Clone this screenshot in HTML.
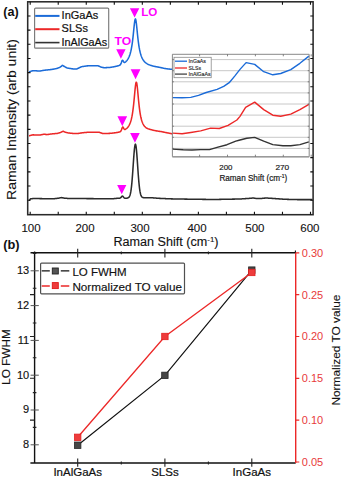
<!DOCTYPE html>
<html><head><meta charset="utf-8"><style>
html,body{margin:0;padding:0;background:#fff;}
body{width:342px;height:478px;overflow:hidden;font-family:"Liberation Sans",sans-serif;}
svg{display:block;}
</style></head><body>
<svg width="342" height="478" viewBox="0 0 342 478" font-family='"Liberation Sans", sans-serif'>
<rect width="342" height="478" fill="#fff"/>
<defs><clipPath id="ca"><rect x="27.7" y="1.8" width="285.4" height="212.9"/></clipPath></defs>
<g clip-path="url(#ca)" fill="none" stroke-width="1.55" stroke-linejoin="round">
<path d="M29.00 71.75 L29.35 71.75 L29.70 71.65 L30.05 71.53 L30.40 71.42 L30.75 71.32 L31.10 71.21 L31.45 71.11 L31.80 71.01 L32.15 70.91 L32.50 70.80 L32.85 70.75 L33.20 70.76 L33.55 70.77 L33.90 70.78 L34.25 70.79 L34.60 70.80 L34.95 70.81 L35.30 70.82 L35.65 70.83 L36.00 70.84 L36.35 70.85 L36.70 70.87 L37.05 70.89 L37.40 70.91 L37.75 70.93 L38.10 70.95 L38.45 70.97 L38.80 70.99 L39.15 71.01 L39.50 71.03 L39.85 71.01 L40.20 70.95 L40.55 70.89 L40.90 70.83 L41.25 70.77 L41.60 70.71 L41.95 70.65 L42.30 70.59 L42.65 70.53 L43.00 70.47 L43.35 70.41 L43.70 70.35 L44.05 70.29 L44.40 70.23 L44.75 70.19 L45.10 70.16 L45.45 70.12 L45.80 70.09 L46.15 70.05 L46.50 70.02 L46.85 69.98 L47.20 69.95 L47.55 69.91 L47.90 69.87 L48.25 69.84 L48.60 69.80 L48.95 69.77 L49.30 69.73 L49.65 69.70 L50.00 69.66 L50.35 69.62 L50.70 69.59 L51.05 69.55 L51.40 69.52 L51.75 69.45 L52.10 69.38 L52.45 69.32 L52.80 69.25 L53.15 69.18 L53.50 69.12 L53.85 69.05 L54.20 68.98 L54.55 68.91 L54.90 68.85 L55.25 68.78 L55.60 68.71 L55.95 68.65 L56.30 68.58 L56.65 68.51 L57.00 68.44 L57.35 68.34 L57.70 68.19 L58.05 68.04 L58.40 67.89 L58.75 67.74 L59.10 67.59 L59.45 67.44 L59.80 67.28 L60.15 67.08 L60.50 66.82 L60.85 66.55 L61.20 66.28 L61.55 66.02 L61.90 65.75 L62.25 65.48 L62.60 65.36 L62.95 65.58 L63.30 65.81 L63.65 66.03 L64.00 66.26 L64.35 66.49 L64.70 66.69 L65.05 66.89 L65.40 67.08 L65.75 67.27 L66.10 67.46 L66.45 67.65 L66.80 67.78 L67.15 67.89 L67.50 68.01 L67.85 68.12 L68.20 68.20 L68.55 68.25 L68.90 68.30 L69.25 68.35 L69.60 68.40 L69.95 68.45 L70.30 68.50 L70.65 68.55 L71.00 68.60 L71.35 68.66 L71.70 68.71 L72.05 68.76 L72.40 68.81 L72.75 68.86 L73.10 68.91 L73.45 68.95 L73.80 68.95 L74.15 68.95 L74.50 68.94 L74.85 68.94 L75.20 68.94 L75.55 68.94 L75.90 68.94 L76.25 68.93 L76.60 68.93 L76.95 68.91 L77.30 68.74 L77.65 68.57 L78.00 68.40 L78.35 68.23 L78.70 68.06 L79.05 67.89 L79.40 67.72 L79.75 67.55 L80.10 67.38 L80.45 67.21 L80.80 67.04 L81.15 66.87 L81.50 66.70 L81.85 66.65 L82.20 66.60 L82.55 66.55 L82.90 66.50 L83.25 66.45 L83.60 66.40 L83.95 66.35 L84.30 66.30 L84.65 66.25 L85.00 66.20 L85.35 66.15 L85.70 66.10 L86.05 66.05 L86.40 66.00 L86.75 65.94 L87.10 65.89 L87.45 65.85 L87.80 65.85 L88.15 65.84 L88.50 65.84 L88.85 65.83 L89.20 65.83 L89.55 65.83 L89.90 65.82 L90.25 65.82 L90.60 65.81 L90.95 65.81 L91.30 65.80 L91.65 65.80 L92.00 65.79 L92.35 65.79 L92.70 65.78 L93.05 65.78 L93.40 65.77 L93.75 65.77 L94.10 65.76 L94.45 65.76 L94.80 65.75 L95.15 65.75 L95.50 65.74 L95.85 65.73 L96.20 65.73 L96.55 65.72 L96.90 65.71 L97.25 65.71 L97.60 65.70 L97.95 65.71 L98.30 65.87 L98.65 66.02 L99.00 66.17 L99.35 66.32 L99.70 66.47 L100.05 66.62 L100.40 66.78 L100.75 66.93 L101.10 67.08 L101.45 67.22 L101.80 67.29 L102.15 67.36 L102.50 67.43 L102.85 67.50 L103.20 67.57 L103.55 67.63 L103.90 67.70 L104.25 67.71 L104.60 67.70 L104.95 67.69 L105.30 67.67 L105.65 67.66 L106.00 67.64 L106.35 67.63 L106.70 67.61 L107.05 67.59 L107.40 67.58 L107.75 67.56 L108.10 67.54 L108.45 67.52 L108.80 67.50 L109.15 67.48 L109.50 67.46 L109.85 67.44 L110.20 67.40 L110.55 67.34 L110.90 67.29 L111.25 67.23 L111.60 67.17 L111.95 67.11 L112.30 67.05 L112.65 66.99 L113.00 66.93 L113.35 66.87 L113.70 66.80 L114.05 66.73 L114.40 66.66 L114.75 66.59 L115.10 66.52 L115.45 66.45 L115.80 66.37 L116.15 66.30 L116.50 66.22 L116.85 66.13 L117.20 66.05 L117.55 65.96 L117.90 65.86 L118.25 65.77 L118.60 65.66 L118.95 65.53 L119.30 65.39 L119.65 65.23 L120.00 65.01 L120.35 64.69 L120.70 64.18 L121.05 63.42 L121.40 62.44 L121.75 61.38 L122.10 60.54 L122.45 60.18 L122.80 60.35 L123.15 60.92 L123.50 61.61 L123.85 62.16 L124.20 62.45 L124.55 62.50 L124.90 62.38 L125.25 62.14 L125.60 61.85 L125.95 61.52 L126.30 61.17 L126.65 60.80 L127.00 60.38 L127.35 59.93 L127.70 59.42 L128.05 58.86 L128.40 58.24 L128.75 57.54 L129.10 56.77 L129.45 55.90 L129.80 54.92 L130.15 53.82 L130.50 52.57 L130.85 51.16 L131.20 49.55 L131.55 47.72 L131.90 45.64 L132.25 43.28 L132.60 40.62 L132.95 37.65 L133.30 34.39 L133.65 30.94 L134.00 27.44 L134.35 24.14 L134.70 21.39 L135.05 19.55 L135.40 18.90 L135.75 19.56 L136.10 21.42 L136.45 24.19 L136.80 27.50 L137.15 31.01 L137.50 34.48 L137.85 37.75 L138.20 40.74 L138.55 43.42 L138.90 45.79 L139.25 47.89 L139.60 49.73 L139.95 51.36 L140.30 52.79 L140.65 54.06 L141.00 55.18 L141.35 56.18 L141.70 57.07 L142.05 57.87 L142.40 58.58 L142.75 59.23 L143.10 59.81 L143.45 60.33 L143.80 60.81 L144.15 61.25 L144.50 61.65 L144.85 62.01 L145.20 62.34 L145.55 62.65 L145.90 62.94 L146.25 63.20 L146.60 63.44 L146.95 63.67 L147.30 63.88 L147.65 64.07 L148.00 64.26 L148.35 64.43 L148.70 64.59 L149.05 64.74 L149.40 64.88 L149.75 65.01 L150.10 65.14 L150.45 65.27 L150.80 65.39 L151.15 65.50 L151.50 65.61 L151.85 65.72 L152.20 65.82 L152.55 65.92 L152.90 66.01 L153.25 66.10 L153.60 66.18 L153.95 66.26 L154.30 66.34 L154.65 66.42 L155.00 66.49 L155.35 66.56 L155.70 66.63 L156.05 66.70 L156.40 66.76 L156.75 66.82 L157.10 66.88 L157.45 66.94 L157.80 67.00 L158.15 67.06 L158.50 67.11 L158.85 67.16 L159.20 67.22 L159.55 67.31 L159.90 67.39 L160.25 67.47 L160.60 67.55 L160.95 67.63 L161.30 67.71 L161.65 67.79 L162.00 67.87 L162.35 67.95 L162.70 68.02 L163.05 68.10 L163.40 68.17 L163.75 68.24 L164.10 68.32 L164.45 68.39 L164.80 68.46 L165.15 68.53 L165.50 68.59 L165.85 68.64 L166.20 68.68 L166.55 68.72 L166.90 68.77 L167.25 68.81 L167.60 68.86 L167.95 68.90 L168.30 68.94 L168.65 68.98 L169.00 69.03 L169.35 69.07 L169.70 69.11 L170.05 69.15 L170.40 69.19 L170.75 69.23 L171.10 69.27 L171.45 69.31 L171.80 69.35 L172.15 69.38 L172.50 69.41 L172.85 69.43 L173.20 69.46 L173.55 69.48 L173.90 69.51 L174.25 69.53 L174.60 69.56 L174.95 69.58 L175.30 69.60 L175.65 69.63 L176.00 69.65 L176.35 69.67 L176.70 69.70 L177.05 69.72 L177.40 69.74 L177.75 69.77 L178.10 69.79 L178.45 69.81 L178.80 69.83 L179.15 69.86 L179.50 69.88 L179.85 69.90 L180.20 69.91 L180.55 69.92 L180.90 69.92 L181.25 69.93 L181.60 69.93 L181.95 69.93 L182.30 69.94 L182.65 69.94 L183.00 69.95 L183.35 69.95 L183.70 69.95 L184.05 69.96 L184.40 69.96 L184.75 69.96 L185.10 69.97 L185.45 69.97 L185.80 69.97 L186.15 69.98 L186.50 69.98 L186.85 69.98 L187.20 69.98 L187.55 69.99 L187.90 69.99 L188.25 69.99 L188.60 70.00 L188.95 70.00 L189.30 70.00 L189.65 70.00 L190.00 70.01 L190.35 70.01 L190.70 70.01 L191.05 70.01 L191.40 70.02 L191.75 70.02 L192.10 70.02 L192.45 70.02 L192.80 70.02 L193.15 70.03 L193.50 70.03 L193.85 70.03 L194.20 70.03 L194.55 70.03 L194.90 70.04 L195.25 70.04 L195.60 70.04 L195.95 70.04 L196.30 70.04 L196.65 70.05 L197.00 70.05 L197.35 70.05 L197.70 70.05 L198.05 70.05 L198.40 70.05 L198.75 70.06 L199.10 70.06 L199.45 70.06 L199.80 70.06" stroke="#1b6bd8"/>
<path d="M29.00 135.76 L29.35 135.76 L29.70 135.66 L30.05 135.54 L30.40 135.43 L30.75 135.35 L31.10 135.26 L31.45 135.17 L31.80 135.08 L32.15 135.00 L32.50 134.91 L32.85 134.86 L33.20 134.87 L33.55 134.88 L33.90 134.89 L34.25 134.90 L34.60 134.91 L34.95 134.92 L35.30 134.93 L35.65 134.94 L36.00 134.95 L36.35 134.96 L36.70 134.97 L37.05 134.98 L37.40 134.99 L37.75 135.00 L38.10 135.01 L38.45 135.02 L38.80 135.03 L39.15 135.04 L39.50 135.05 L39.85 135.02 L40.20 134.96 L40.55 134.89 L40.90 134.82 L41.25 134.75 L41.60 134.69 L41.95 134.62 L42.30 134.55 L42.65 134.48 L43.00 134.42 L43.35 134.35 L43.70 134.28 L44.05 134.21 L44.40 134.15 L44.75 134.22 L45.10 134.30 L45.45 134.37 L45.80 134.45 L46.15 134.52 L46.50 134.60 L46.85 134.62 L47.20 134.57 L47.55 134.52 L47.90 134.46 L48.25 134.41 L48.60 134.36 L48.95 134.31 L49.30 134.25 L49.65 134.20 L50.00 134.15 L50.35 134.09 L50.70 134.04 L51.05 133.99 L51.40 133.94 L51.75 133.91 L52.10 133.88 L52.45 133.84 L52.80 133.81 L53.15 133.78 L53.50 133.75 L53.85 133.72 L54.20 133.69 L54.55 133.66 L54.90 133.63 L55.25 133.60 L55.60 133.57 L55.95 133.54 L56.30 133.51 L56.65 133.48 L57.00 133.45 L57.35 133.39 L57.70 133.29 L58.05 133.19 L58.40 133.10 L58.75 133.00 L59.10 132.91 L59.45 132.81 L59.80 132.71 L60.15 132.62 L60.50 132.52 L60.85 132.35 L61.20 132.17 L61.55 131.99 L61.90 131.82 L62.25 131.64 L62.60 131.47 L62.95 131.29 L63.30 131.31 L63.65 131.47 L64.00 131.63 L64.35 131.79 L64.70 131.94 L65.05 132.10 L65.40 132.26 L65.75 132.36 L66.10 132.44 L66.45 132.51 L66.80 132.59 L67.15 132.67 L67.50 132.74 L67.85 132.82 L68.20 132.89 L68.55 132.97 L68.90 133.02 L69.25 133.06 L69.60 133.09 L69.95 133.13 L70.30 133.17 L70.65 133.20 L71.00 133.24 L71.35 133.27 L71.70 133.31 L72.05 133.35 L72.40 133.38 L72.75 133.42 L73.10 133.45 L73.45 133.49 L73.80 133.48 L74.15 133.48 L74.50 133.48 L74.85 133.48 L75.20 133.48 L75.55 133.48 L75.90 133.48 L76.25 133.47 L76.60 133.47 L76.95 133.47 L77.30 133.47 L77.65 133.47 L78.00 133.47 L78.35 133.41 L78.70 133.36 L79.05 133.31 L79.40 133.25 L79.75 133.20 L80.10 133.14 L80.45 133.09 L80.80 133.04 L81.15 132.98 L81.50 132.93 L81.85 132.87 L82.20 132.82 L82.55 132.77 L82.90 132.72 L83.25 132.69 L83.60 132.66 L83.95 132.63 L84.30 132.60 L84.65 132.56 L85.00 132.53 L85.35 132.50 L85.70 132.47 L86.05 132.44 L86.40 132.40 L86.75 132.37 L87.10 132.34 L87.45 132.31 L87.80 132.31 L88.15 132.30 L88.50 132.30 L88.85 132.30 L89.20 132.30 L89.55 132.29 L89.90 132.29 L90.25 132.29 L90.60 132.28 L90.95 132.28 L91.30 132.28 L91.65 132.27 L92.00 132.27 L92.35 132.27 L92.70 132.26 L93.05 132.26 L93.40 132.25 L93.75 132.25 L94.10 132.25 L94.45 132.24 L94.80 132.24 L95.15 132.23 L95.50 132.23 L95.85 132.22 L96.20 132.22 L96.55 132.21 L96.90 132.21 L97.25 132.20 L97.60 132.20 L97.95 132.19 L98.30 132.19 L98.65 132.18 L99.00 132.18 L99.35 132.27 L99.70 132.40 L100.05 132.54 L100.40 132.67 L100.75 132.80 L101.10 132.94 L101.45 133.07 L101.80 133.20 L102.15 133.33 L102.50 133.47 L102.85 133.50 L103.20 133.50 L103.55 133.49 L103.90 133.49 L104.25 133.48 L104.60 133.48 L104.95 133.47 L105.30 133.47 L105.65 133.46 L106.00 133.46 L106.35 133.45 L106.70 133.44 L107.05 133.43 L107.40 133.43 L107.75 133.42 L108.10 133.41 L108.45 133.40 L108.80 133.39 L109.15 133.38 L109.50 133.37 L109.85 133.36 L110.20 133.33 L110.55 133.30 L110.90 133.27 L111.25 133.23 L111.60 133.20 L111.95 133.16 L112.30 133.13 L112.65 133.09 L113.00 133.05 L113.35 133.01 L113.70 132.97 L114.05 132.93 L114.40 132.88 L114.75 132.84 L115.10 132.79 L115.45 132.74 L115.80 132.68 L116.15 132.63 L116.50 132.57 L116.85 132.51 L117.20 132.45 L117.55 132.39 L117.90 132.32 L118.25 132.26 L118.60 132.18 L118.95 132.09 L119.30 132.00 L119.65 131.90 L120.00 131.77 L120.35 131.59 L120.70 131.28 L121.05 130.77 L121.40 130.01 L121.75 129.03 L122.10 128.01 L122.45 127.24 L122.80 126.97 L123.15 127.24 L123.50 127.89 L123.85 128.62 L124.20 129.18 L124.55 129.48 L124.90 129.54 L125.25 129.44 L125.60 129.24 L125.95 128.99 L126.30 128.72 L126.65 128.43 L127.00 128.11 L127.35 127.76 L127.70 127.37 L128.05 126.94 L128.40 126.47 L128.75 125.94 L129.10 125.34 L129.45 124.67 L129.80 123.92 L130.15 123.07 L130.50 122.11 L130.85 121.02 L131.20 119.77 L131.55 118.34 L131.90 116.71 L132.25 114.83 L132.60 112.68 L132.95 110.23 L133.30 107.44 L133.65 104.32 L134.00 100.87 L134.35 97.16 L134.70 93.33 L135.05 89.61 L135.40 86.30 L135.75 83.76 L136.10 82.33 L136.45 82.23 L136.80 83.46 L137.15 85.83 L137.50 89.04 L137.85 92.70 L138.20 96.51 L138.55 100.22 L138.90 103.69 L139.25 106.85 L139.60 109.66 L139.95 112.14 L140.30 114.30 L140.65 116.17 L141.00 117.80 L141.35 119.22 L141.70 120.45 L142.05 121.53 L142.40 122.47 L142.75 123.29 L143.10 124.02 L143.45 124.66 L143.80 125.22 L144.15 125.72 L144.50 126.17 L144.85 126.56 L145.20 126.92 L145.55 127.24 L145.90 127.52 L146.25 127.78 L146.60 128.01 L146.95 128.21 L147.30 128.40 L147.65 128.57 L148.00 128.72 L148.35 128.86 L148.70 128.99 L149.05 129.10 L149.40 129.21 L149.75 129.30 L150.10 129.39 L150.45 129.46 L150.80 129.54 L151.15 129.64 L151.50 129.75 L151.85 129.85 L152.20 129.95 L152.55 130.05 L152.90 130.14 L153.25 130.23 L153.60 130.31 L153.95 130.39 L154.30 130.47 L154.65 130.54 L155.00 130.61 L155.35 130.68 L155.70 130.75 L156.05 130.81 L156.40 130.87 L156.75 130.93 L157.10 130.99 L157.45 131.05 L157.80 131.10 L158.15 131.16 L158.50 131.21 L158.85 131.26 L159.20 131.31 L159.55 131.36 L159.90 131.41 L160.25 131.46 L160.60 131.50 L160.95 131.55 L161.30 131.60 L161.65 131.68 L162.00 131.75 L162.35 131.83 L162.70 131.91 L163.05 131.98 L163.40 132.06 L163.75 132.13 L164.10 132.20 L164.45 132.27 L164.80 132.35 L165.15 132.42 L165.50 132.49 L165.85 132.56 L166.20 132.63 L166.55 132.70 L166.90 132.77 L167.25 132.84 L167.60 132.91 L167.95 132.98 L168.30 133.04 L168.65 133.11 L169.00 133.18 L169.35 133.25 L169.70 133.31 L170.05 133.38 L170.40 133.45 L170.75 133.51 L171.10 133.58 L171.45 133.64 L171.80 133.66 L172.15 133.67 L172.50 133.69 L172.85 133.71 L173.20 133.73 L173.55 133.75 L173.90 133.77 L174.25 133.79 L174.60 133.80 L174.95 133.82 L175.30 133.84 L175.65 133.86 L176.00 133.87 L176.35 133.89 L176.70 133.91 L177.05 133.92 L177.40 133.94 L177.75 133.96 L178.10 133.97 L178.45 133.99 L178.80 134.01 L179.15 134.02 L179.50 134.04 L179.85 134.06 L180.20 134.07 L180.55 134.07 L180.90 134.07 L181.25 134.08 L181.60 134.08 L181.95 134.08 L182.30 134.09 L182.65 134.09 L183.00 134.09 L183.35 134.10 L183.70 134.10 L184.05 134.10 L184.40 134.10 L184.75 134.11 L185.10 134.11 L185.45 134.11 L185.80 134.12 L186.15 134.12 L186.50 134.12 L186.85 134.12 L187.20 134.13 L187.55 134.13 L187.90 134.13 L188.25 134.13 L188.60 134.13 L188.95 134.14 L189.30 134.14 L189.65 134.14 L190.00 134.14 L190.35 134.14 L190.70 134.15 L191.05 134.15 L191.40 134.15 L191.75 134.15 L192.10 134.15 L192.45 134.16 L192.80 134.16 L193.15 134.16 L193.50 134.16 L193.85 134.16 L194.20 134.16 L194.55 134.17 L194.90 134.17 L195.25 134.17 L195.60 134.17 L195.95 134.17 L196.30 134.17 L196.65 134.18 L197.00 134.18 L197.35 134.18 L197.70 134.18 L198.05 134.18 L198.40 134.18 L198.75 134.18 L199.10 134.19 L199.45 134.19 L199.80 134.19" stroke="#ec2828"/>
<path d="M29.00 200.20 L29.35 200.20 L29.70 199.82 L30.05 199.37 L30.40 198.92 L30.75 198.77 L31.10 198.74 L31.45 198.71 L31.80 198.68 L32.15 198.65 L32.50 198.61 L32.85 198.58 L33.20 198.55 L33.55 198.52 L33.90 198.50 L34.25 198.50 L34.60 198.51 L34.95 198.52 L35.30 198.52 L35.65 198.53 L36.00 198.54 L36.35 198.54 L36.70 198.55 L37.05 198.55 L37.40 198.56 L37.75 198.57 L38.10 198.57 L38.45 198.58 L38.80 198.59 L39.15 198.59 L39.50 198.60 L39.85 198.60 L40.20 198.61 L40.55 198.62 L40.90 198.62 L41.25 198.63 L41.60 198.64 L41.95 198.64 L42.30 198.65 L42.65 198.65 L43.00 198.66 L43.35 198.67 L43.70 198.67 L44.05 198.68 L44.40 198.69 L44.75 198.69 L45.10 198.70 L45.45 198.70 L45.80 198.70 L46.15 198.70 L46.50 198.70 L46.85 198.70 L47.20 198.70 L47.55 198.70 L47.90 198.70 L48.25 198.70 L48.60 198.70 L48.95 198.70 L49.30 198.70 L49.65 198.70 L50.00 198.70 L50.35 198.70 L50.70 198.70 L51.05 198.70 L51.40 198.70 L51.75 198.70 L52.10 198.70 L52.45 198.70 L52.80 198.69 L53.15 198.69 L53.50 198.69 L53.85 198.69 L54.20 198.69 L54.55 198.65 L54.90 198.61 L55.25 198.57 L55.60 198.53 L55.95 198.49 L56.30 198.45 L56.65 198.41 L57.00 198.37 L57.35 198.33 L57.70 198.29 L58.05 198.25 L58.40 198.21 L58.75 198.14 L59.10 198.07 L59.45 198.00 L59.80 197.93 L60.15 197.86 L60.50 197.79 L60.85 197.72 L61.20 197.65 L61.55 197.60 L61.90 197.67 L62.25 197.74 L62.60 197.81 L62.95 197.88 L63.30 197.95 L63.65 198.02 L64.00 198.09 L64.35 198.16 L64.70 198.21 L65.05 198.23 L65.40 198.25 L65.75 198.28 L66.10 198.30 L66.45 198.33 L66.80 198.35 L67.15 198.37 L67.50 198.40 L67.85 198.42 L68.20 198.44 L68.55 198.47 L68.90 198.49 L69.25 198.49 L69.60 198.50 L69.95 198.50 L70.30 198.50 L70.65 198.50 L71.00 198.50 L71.35 198.51 L71.70 198.51 L72.05 198.51 L72.40 198.51 L72.75 198.52 L73.10 198.52 L73.45 198.52 L73.80 198.52 L74.15 198.52 L74.50 198.53 L74.85 198.53 L75.20 198.53 L75.55 198.53 L75.90 198.53 L76.25 198.54 L76.60 198.54 L76.95 198.54 L77.30 198.54 L77.65 198.54 L78.00 198.55 L78.35 198.55 L78.70 198.55 L79.05 198.55 L79.40 198.55 L79.75 198.56 L80.10 198.56 L80.45 198.56 L80.80 198.56 L81.15 198.56 L81.50 198.57 L81.85 198.57 L82.20 198.57 L82.55 198.57 L82.90 198.57 L83.25 198.58 L83.60 198.58 L83.95 198.58 L84.30 198.58 L84.65 198.58 L85.00 198.59 L85.35 198.59 L85.70 198.59 L86.05 198.59 L86.40 198.60 L86.75 198.60 L87.10 198.60 L87.45 198.60 L87.80 198.61 L88.15 198.61 L88.50 198.61 L88.85 198.61 L89.20 198.62 L89.55 198.62 L89.90 198.62 L90.25 198.62 L90.60 198.63 L90.95 198.63 L91.30 198.63 L91.65 198.63 L92.00 198.64 L92.35 198.64 L92.70 198.64 L93.05 198.64 L93.40 198.64 L93.75 198.65 L94.10 198.65 L94.45 198.65 L94.80 198.65 L95.15 198.66 L95.50 198.66 L95.85 198.66 L96.20 198.66 L96.55 198.67 L96.90 198.67 L97.25 198.67 L97.60 198.67 L97.95 198.67 L98.30 198.68 L98.65 198.68 L99.00 198.68 L99.35 198.68 L99.70 198.68 L100.05 198.69 L100.40 198.69 L100.75 198.69 L101.10 198.69 L101.45 198.69 L101.80 198.70 L102.15 198.70 L102.50 198.70 L102.85 198.70 L103.20 198.70 L103.55 198.70 L103.90 198.71 L104.25 198.71 L104.60 198.71 L104.95 198.71 L105.30 198.71 L105.65 198.71 L106.00 198.71 L106.35 198.72 L106.70 198.72 L107.05 198.72 L107.40 198.72 L107.75 198.72 L108.10 198.72 L108.45 198.72 L108.80 198.73 L109.15 198.73 L109.50 198.73 L109.85 198.73 L110.20 198.73 L110.55 198.73 L110.90 198.73 L111.25 198.73 L111.60 198.73 L111.95 198.73 L112.30 198.73 L112.65 198.73 L113.00 198.71 L113.35 198.68 L113.70 198.65 L114.05 198.61 L114.40 198.58 L114.75 198.54 L115.10 198.51 L115.45 198.47 L115.80 198.44 L116.15 198.40 L116.50 198.36 L116.85 198.33 L117.20 198.29 L117.55 198.26 L117.90 198.22 L118.25 198.19 L118.60 198.20 L118.95 198.20 L119.30 198.20 L119.65 198.17 L120.00 198.11 L120.35 197.97 L120.70 197.73 L121.05 197.37 L121.40 196.92 L121.75 196.48 L122.10 196.17 L122.45 196.08 L122.80 196.25 L123.15 196.62 L123.50 197.08 L123.85 197.51 L124.20 197.85 L124.55 198.06 L124.90 198.18 L125.25 198.23 L125.60 198.25 L125.95 198.25 L126.30 198.22 L126.65 198.18 L127.00 198.13 L127.35 198.06 L127.70 197.97 L128.05 197.84 L128.40 197.66 L128.75 197.40 L129.10 197.02 L129.45 196.48 L129.80 195.71 L130.15 194.66 L130.50 193.25 L130.85 191.39 L131.20 189.02 L131.55 186.08 L131.90 182.55 L132.25 178.44 L132.60 173.84 L132.95 168.87 L133.30 163.73 L133.65 158.66 L134.00 153.95 L134.35 149.90 L134.70 146.76 L135.05 144.78 L135.40 144.10 L135.75 144.77 L136.10 146.73 L136.45 149.85 L136.80 153.89 L137.15 158.59 L137.50 163.64 L137.85 168.77 L138.20 173.72 L138.55 178.31 L138.90 182.40 L139.25 185.91 L139.60 188.84 L139.95 191.19 L140.30 193.03 L140.65 194.42 L141.00 195.45 L141.35 196.19 L141.70 196.71 L142.05 197.06 L142.40 197.30 L142.75 197.46 L143.10 197.57 L143.45 197.63 L143.80 197.68 L144.15 197.70 L144.50 197.72 L144.85 197.73 L145.20 197.74 L145.55 197.75 L145.90 197.75 L146.25 197.75 L146.60 197.75 L146.95 197.75 L147.30 197.74 L147.65 197.74 L148.00 197.73 L148.35 197.73 L148.70 197.72 L149.05 197.71 L149.40 197.70 L149.75 197.70 L150.10 197.69 L150.45 197.68 L150.80 197.67 L151.15 197.69 L151.50 197.72 L151.85 197.75 L152.20 197.78 L152.55 197.81 L152.90 197.84 L153.25 197.87 L153.60 197.90 L153.95 197.93 L154.30 197.96 L154.65 197.98 L155.00 198.01 L155.35 198.04 L155.70 198.07 L156.05 198.10 L156.40 198.13 L156.75 198.15 L157.10 198.18 L157.45 198.21 L157.80 198.24 L158.15 198.27 L158.50 198.29 L158.85 198.32 L159.20 198.34 L159.55 198.36 L159.90 198.38 L160.25 198.39 L160.60 198.41 L160.95 198.42 L161.30 198.44 L161.65 198.45 L162.00 198.47 L162.35 198.49 L162.70 198.50 L163.05 198.52 L163.40 198.53 L163.75 198.55 L164.10 198.56 L164.45 198.58 L164.80 198.59 L165.15 198.61 L165.50 198.62 L165.85 198.64 L166.20 198.65 L166.55 198.67 L166.90 198.68 L167.25 198.70 L167.60 198.71 L167.95 198.73 L168.30 198.74 L168.65 198.76 L169.00 198.77 L169.35 198.79 L169.70 198.80 L170.05 198.82 L170.40 198.83 L170.75 198.85 L171.10 198.86 L171.45 198.87 L171.80 198.88 L172.15 198.89 L172.50 198.89 L172.85 198.90 L173.20 198.91 L173.55 198.91 L173.90 198.92 L174.25 198.92 L174.60 198.93 L174.95 198.94 L175.30 198.94 L175.65 198.95 L176.00 198.95 L176.35 198.96 L176.70 198.97 L177.05 198.97 L177.40 198.98 L177.75 198.98 L178.10 198.99 L178.45 199.00 L178.80 199.00 L179.15 199.01 L179.50 199.01 L179.85 199.02 L180.20 199.02 L180.55 199.03 L180.90 199.04 L181.25 199.04 L181.60 199.05 L181.95 199.05 L182.30 199.06 L182.65 199.07 L183.00 199.07 L183.35 199.08 L183.70 199.08 L184.05 199.09 L184.40 199.10 L184.75 199.10 L185.10 199.11 L185.45 199.11 L185.80 199.12 L186.15 199.12 L186.50 199.13 L186.85 199.14 L187.20 199.14 L187.55 199.15 L187.90 199.15 L188.25 199.16 L188.60 199.17 L188.95 199.17 L189.30 199.18 L189.65 199.18 L190.00 199.19 L190.35 199.19 L190.70 199.20 L191.05 199.20 L191.40 199.21 L191.75 199.21 L192.10 199.22 L192.45 199.22 L192.80 199.22 L193.15 199.23 L193.50 199.23 L193.85 199.24 L194.20 199.24 L194.55 199.25 L194.90 199.25 L195.25 199.26 L195.60 199.26 L195.95 199.27 L196.30 199.27 L196.65 199.27 L197.00 199.28 L197.35 199.28 L197.70 199.29 L198.05 199.29 L198.40 199.30 L198.75 199.30 L199.10 199.31 L199.45 199.31 L199.80 199.31 L200.15 199.32 L200.50 199.32 L200.85 199.33 L201.20 199.33 L201.55 199.34 L201.90 199.34 L202.25 199.35 L202.60 199.35 L202.95 199.36 L203.30 199.36 L203.65 199.36 L204.00 199.37 L204.35 199.37 L204.70 199.38 L205.05 199.38 L205.40 199.39 L205.75 199.39 L206.10 199.40 L206.45 199.40 L206.80 199.40 L207.15 199.41 L207.50 199.41 L207.85 199.42 L208.20 199.42 L208.55 199.43 L208.90 199.43 L209.25 199.44 L209.60 199.44 L209.95 199.44 L210.30 199.45 L210.65 199.45 L211.00 199.46 L211.35 199.46 L211.70 199.47 L212.05 199.47 L212.40 199.48 L212.75 199.48 L213.10 199.48 L213.45 199.49 L213.80 199.49 L214.15 199.49 L214.50 199.48 L214.85 199.48 L215.20 199.47 L215.55 199.46 L215.90 199.46 L216.25 199.45 L216.60 199.44 L216.95 199.44 L217.30 199.43 L217.65 199.42 L218.00 199.42 L218.35 199.41 L218.70 199.40 L219.05 199.40 L219.40 199.39 L219.75 199.38 L220.10 199.38 L220.45 199.37 L220.80 199.36 L221.15 199.36 L221.50 199.35 L221.85 199.34 L222.20 199.34 L222.55 199.33 L222.90 199.32 L223.25 199.32 L223.60 199.31 L223.95 199.30 L224.30 199.30 L224.65 199.29 L225.00 199.28 L225.35 199.28 L225.70 199.27 L226.05 199.26 L226.40 199.26 L226.75 199.25 L227.10 199.24 L227.45 199.24 L227.80 199.23 L228.15 199.22 L228.50 199.22 L228.85 199.21 L229.20 199.20 L229.55 199.20 L229.90 199.19 L230.25 199.18 L230.60 199.18 L230.95 199.17 L231.30 199.16 L231.65 199.16 L232.00 199.15 L232.35 199.14 L232.70 199.14 L233.05 199.13 L233.40 199.12 L233.75 199.12 L234.10 199.11 L234.45 199.10 L234.80 199.10 L235.15 199.09 L235.50 199.08 L235.85 199.08 L236.20 199.07 L236.55 199.06 L236.90 199.06 L237.25 199.05 L237.60 199.04 L237.95 199.04 L238.30 199.03 L238.65 199.02 L239.00 199.02 L239.35 199.01 L239.70 199.00 L240.05 198.99 L240.40 198.97 L240.75 198.95 L241.10 198.92 L241.45 198.90 L241.80 198.88 L242.15 198.85 L242.50 198.83 L242.85 198.81 L243.20 198.78 L243.55 198.76 L243.90 198.74 L244.25 198.71 L244.60 198.69 L244.95 198.67 L245.30 198.64 L245.65 198.62 L246.00 198.60 L246.35 198.57 L246.70 198.55 L247.05 198.53 L247.40 198.50 L247.75 198.48 L248.10 198.46 L248.45 198.43 L248.80 198.41 L249.15 198.38 L249.50 198.35 L249.85 198.32 L250.20 198.29 L250.55 198.25 L250.90 198.22 L251.25 198.19 L251.60 198.16 L251.95 198.12 L252.30 198.09 L252.65 198.06 L253.00 198.03 L253.35 198.01 L253.70 198.06 L254.05 198.12 L254.40 198.18 L254.75 198.23 L255.10 198.29 L255.45 198.35 L255.80 198.40 L256.15 198.46 L256.50 198.52 L256.85 198.57 L257.20 198.59 L257.55 198.58 L257.90 198.56 L258.25 198.55 L258.60 198.53 L258.95 198.52 L259.30 198.51 L259.65 198.49 L260.00 198.48 L260.35 198.46 L260.70 198.45 L261.05 198.44 L261.40 198.42 L261.75 198.41 L262.10 198.39 L262.45 198.35 L262.80 198.32 L263.15 198.28 L263.50 198.25 L263.85 198.21 L264.20 198.18 L264.55 198.14 L264.90 198.11 L265.25 198.07 L265.60 198.04 L265.95 198.00 L266.30 198.02 L266.65 198.04 L267.00 198.06 L267.35 198.08 L267.70 198.10 L268.05 198.12 L268.40 198.15 L268.75 198.17 L269.10 198.19 L269.45 198.21 L269.80 198.23 L270.15 198.25 L270.50 198.27 L270.85 198.30 L271.20 198.32 L271.55 198.34 L271.90 198.37 L272.25 198.39 L272.60 198.42 L272.95 198.44 L273.30 198.47 L273.65 198.49 L274.00 198.52 L274.35 198.54 L274.70 198.57 L275.05 198.59 L275.40 198.62 L275.75 198.64 L276.10 198.67 L276.45 198.69 L276.80 198.72 L277.15 198.74 L277.50 198.77 L277.85 198.79 L278.20 198.82 L278.55 198.84 L278.90 198.87 L279.25 198.89 L279.60 198.92 L279.95 198.94 L280.30 198.97 L280.65 198.99 L281.00 199.01 L281.35 199.04 L281.70 199.06 L282.05 199.09 L282.40 199.11 L282.75 199.14 L283.10 199.16 L283.45 199.19 L283.80 199.21 L284.15 199.24 L284.50 199.26 L284.85 199.29 L285.20 199.30 L285.55 199.31 L285.90 199.32 L286.25 199.33 L286.60 199.34 L286.95 199.35 L287.30 199.36 L287.65 199.36 L288.00 199.37 L288.35 199.38 L288.70 199.39 L289.05 199.40 L289.40 199.41 L289.75 199.42 L290.10 199.42 L290.45 199.43 L290.80 199.44 L291.15 199.45 L291.50 199.46 L291.85 199.47 L292.20 199.48 L292.55 199.48 L292.90 199.49 L293.25 199.50 L293.60 199.51 L293.95 199.52 L294.30 199.53 L294.65 199.54 L295.00 199.54 L295.35 199.55 L295.70 199.56 L296.05 199.57 L296.40 199.58 L296.75 199.59 L297.10 199.60 L297.45 199.60 L297.80 199.60 L298.15 199.60 L298.50 199.60 L298.85 199.60 L299.20 199.60 L299.55 199.60 L299.90 199.60 L300.25 199.60 L300.60 199.60 L300.95 199.60 L301.30 199.60 L301.65 199.60 L302.00 199.60 L302.35 199.60 L302.70 199.60 L303.05 199.60 L303.40 199.60 L303.75 199.60 L304.10 199.60 L304.45 199.60 L304.80 199.60 L305.15 199.60 L305.50 199.60 L305.85 199.60 L306.20 199.60 L306.55 199.60 L306.90 199.60 L307.25 199.60 L307.60 199.60 L307.95 199.60 L308.30 199.60 L308.65 199.60 L309.00 199.60 L309.35 199.60 L309.70 199.60 L310.05 199.60 L310.40 199.60 L310.75 199.60 L311.10 199.60 L311.45 199.60 L311.80 199.60 L312.15 199.60 L312.50 199.60" stroke="#2b2b2b"/>
</g>
<rect x="27.70" y="1.80" width="285.40" height="212.90" fill="none" stroke="#2a2a2a" stroke-width="1.55"/>
<path d="M30.20 214.70V211.70M30.20 1.80V4.80M58.23 214.70V211.70M58.23 1.80V4.80M86.26 214.70V211.70M86.26 1.80V4.80M114.29 214.70V211.70M114.29 1.80V4.80M142.32 214.70V211.70M142.32 1.80V4.80M170.35 214.70V211.70M170.35 1.80V4.80M198.38 214.70V211.70M198.38 1.80V4.80M226.41 214.70V211.70M226.41 1.80V4.80M254.44 214.70V211.70M254.44 1.80V4.80M282.47 214.70V211.70M282.47 1.80V4.80M310.50 214.70V211.70M310.50 1.80V4.80M27.70 15.97H30.50M313.10 15.97H310.30M27.70 30.14H30.50M313.10 30.14H310.30M27.70 44.31H30.50M313.10 44.31H310.30M27.70 58.48H30.50M313.10 58.48H310.30M27.70 72.65H30.50M313.10 72.65H310.30M27.70 86.82H30.50M313.10 86.82H310.30M27.70 100.99H30.50M313.10 100.99H310.30M27.70 115.16H30.50M313.10 115.16H310.30M27.70 129.33H30.50M313.10 129.33H310.30M27.70 143.50H30.50M313.10 143.50H310.30M27.70 157.67H30.50M313.10 157.67H310.30M27.70 171.84H30.50M313.10 171.84H310.30M27.70 186.01H30.50M313.10 186.01H310.30M27.70 200.18H30.50M313.10 200.18H310.30" stroke="#111" stroke-width="1.1" fill="none"/>
<text x="31.00" y="231.7" font-size="11.5" text-anchor="middle" fill="#111" stroke="#111" stroke-width="0.1">100</text>
<text x="85.00" y="231.7" font-size="11.5" text-anchor="middle" fill="#111" stroke="#111" stroke-width="0.1">200</text>
<text x="140.00" y="231.7" font-size="11.5" text-anchor="middle" fill="#111" stroke="#111" stroke-width="0.1">300</text>
<text x="197.00" y="231.7" font-size="11.5" text-anchor="middle" fill="#111" stroke="#111" stroke-width="0.1">400</text>
<text x="254.90" y="231.7" font-size="11.5" text-anchor="middle" fill="#111" stroke="#111" stroke-width="0.1">500</text>
<text x="309.90" y="231.7" font-size="11.5" text-anchor="middle" fill="#111" stroke="#111" stroke-width="0.1">600</text>
<text x="113.5" y="246.4" font-size="12" fill="#111" stroke="#111" stroke-width="0.12" textLength="105" lengthAdjust="spacingAndGlyphs">Raman Shift (cm<tspan font-size="7.5" dy="-4.5">-1</tspan><tspan dy="4.5">)</tspan></text>
<text transform="translate(16.2 199.9) rotate(-90)" font-size="13.2" fill="#111" stroke="#111" stroke-width="0.1" textLength="160.7" lengthAdjust="spacingAndGlyphs">Raman Intensity (arb unit)</text>
<text x="3.3" y="15.9" font-size="12.6" font-weight="bold" fill="#111">(a)</text>
<rect x="34.6" y="8.1" width="74.1" height="40.1" rx="1" fill="#fff" stroke="#7a7a7a" stroke-width="1.15"/>
<path d="M35.2 15.9H59.5" stroke="#1b6bd8" stroke-width="2"/>
<path d="M35.2 29.2H59.5" stroke="#ec2828" stroke-width="2"/>
<path d="M35.2 42.6H59.5" stroke="#333" stroke-width="1.6"/>
<text x="61.6" y="19.1" font-size="11" fill="#111" stroke="#111" stroke-width="0.2">InGaAs</text>
<text x="61.6" y="32.4" font-size="11" fill="#111" stroke="#111" stroke-width="0.2">SLSs</text>
<text x="61.6" y="45.8" font-size="11" fill="#111" stroke="#111" stroke-width="0.2" textLength="45.6" lengthAdjust="spacingAndGlyphs">InAlGaAs</text>
<path d="M129.90 8.20L139.30 8.20L134.60 17.50ZM116.20 49.30L125.60 49.30L120.90 58.80ZM130.65 69.20L140.45 69.20L135.55 79.30ZM117.45 116.30L127.15 116.30L122.30 126.20ZM130.15 133.00L139.75 133.00L134.95 142.70ZM117.15 185.00L126.35 185.00L121.75 194.20Z" fill="#ff00ff"/>
<text x="141.3" y="16.1" font-size="11.2" font-weight="bold" fill="#ff00ff" textLength="16.1" lengthAdjust="spacingAndGlyphs">LO</text>
<text x="114.6" y="45.0" font-size="10.6" font-weight="bold" fill="#ff00ff" textLength="16.6" lengthAdjust="spacingAndGlyphs">TO</text>
<rect x="172.4" y="54.3" width="136.8" height="102.4" fill="#fff"/>
<path d="M172.4 59.60H309.2M172.4 70.70H309.2M172.4 81.80H309.2M172.4 92.90H309.2M172.4 104.00H309.2M172.4 115.10H309.2M172.4 126.20H309.2M172.4 137.30H309.2M172.4 148.40H309.2" stroke="#c8c8c8" stroke-width="1" fill="none"/>
<g fill="none" stroke-width="1.4" stroke-linejoin="round">
<path d="M172.6 97.6 L182.1 97.8 L190.8 97.4 L198.5 95.4 L206.2 92.5 L217.1 89.3 L223.7 86.4 L229.2 82.7 L234.7 76.1 L240.0 69.4 L246.1 62.6 L254.7 64.4 L263.7 71.7 L272.8 74.8 L280.7 73.5 L290.8 69.6 L299.9 63.3 L308.9 56.1" stroke="#1b6bd8"/>
<path d="M172.6 133.1 L182.1 133.8 L190.8 132.5 L200.7 130.9 L210.6 128.1 L219.3 128.5 L228.1 125.4 L236.9 120.0 L240.0 116.4 L245.6 107.3 L254.7 102.1 L263.7 109.6 L272.8 115.2 L280.7 116.2 L290.8 114.1 L299.9 109.6 L308.9 104.4" stroke="#ec2828"/>
<path d="M172.6 149.1 L183.2 149.8 L191.9 150.0 L200.7 149.6 L209.5 149.6 L217.1 147.4 L227.0 144.7 L235.8 141.2 L240.0 140.0 L246.8 138.3 L254.7 137.4 L263.7 141.2 L272.8 144.6 L282.9 145.7 L290.8 145.7 L299.9 144.6 L308.9 141.9" stroke="#333"/>
</g>
<path d="M172.4 54.3V156.7H309.2V54.3Z" fill="none" stroke="#7a7a7a" stroke-width="0.9"/>
<path d="M172.4 156.9H309.2" stroke="#999" stroke-width="1.2"/>
<path d="M199.6 156.7V154.7M199.6 54.3V56.3M227.5 156.7V154.7M227.5 54.3V56.3M255.4 156.7V154.7M255.4 54.3V56.3M283.3 156.7V154.7M283.3 54.3V56.3M311.2 156.7V154.7M311.2 54.3V56.3M172.4 59.60H173.9M309.2 59.60H307.7M172.4 70.70H173.9M309.2 70.70H307.7M172.4 81.80H173.9M309.2 81.80H307.7M172.4 92.90H173.9M309.2 92.90H307.7M172.4 104.00H173.9M309.2 104.00H307.7M172.4 115.10H173.9M309.2 115.10H307.7M172.4 126.20H173.9M309.2 126.20H307.7M172.4 137.30H173.9M309.2 137.30H307.7M172.4 148.40H173.9M309.2 148.40H307.7" stroke="#666" stroke-width="0.8" fill="none"/>
<rect x="174.0" y="57.3" width="37.2" height="20.4" fill="#fff" stroke="#8a8a8a" stroke-width="0.8"/>
<path d="M175 61.2H187" stroke="#1b6bd8" stroke-width="1.3"/>
<path d="M175 68.0H187" stroke="#ec2828" stroke-width="1.3"/>
<path d="M175 74.1H187" stroke="#444" stroke-width="1.3"/>
<text x="188.6" y="63.1" font-size="5.2" fill="#1a1a1a" stroke="#1a1a1a" stroke-width="0.12">InGaAs</text>
<text x="188.6" y="69.9" font-size="5.2" fill="#1a1a1a" stroke="#1a1a1a" stroke-width="0.12">SLSs</text>
<text x="188.6" y="76.0" font-size="5.2" fill="#1a1a1a" stroke="#1a1a1a" stroke-width="0.12">InAlGaAs</text>
<text x="219.3" y="170.4" font-size="8.1" fill="#1a1a1a" stroke="#1a1a1a" stroke-width="0.2" textLength="13.1" lengthAdjust="spacingAndGlyphs">200</text>
<text x="275.4" y="170.4" font-size="8.1" fill="#1a1a1a" stroke="#1a1a1a" stroke-width="0.2" textLength="13.8" lengthAdjust="spacingAndGlyphs">270</text>
<text x="219.4" y="181.4" font-size="8.6" fill="#1a1a1a" stroke="#1a1a1a" stroke-width="0.2" textLength="67.8" lengthAdjust="spacingAndGlyphs">Raman Shift (cm<tspan font-size="5.2" dy="-3.2">-1</tspan><tspan dy="3.2">)</tspan></text>
<text x="3.2" y="249.2" font-size="12.8" font-weight="bold" fill="#111">(b)</text>
<path d="M30.5 252.8H295.7 M34.6 251.6V463.7 M30.4 463.0H295.7" stroke="#111" stroke-width="1.4" fill="none"/>
<path d="M295.7 252.8V463.0" stroke="#ec2828" stroke-width="1.4"/>
<path d="M295.4 252.8V250.6" stroke="#111" stroke-width="1.1"/>
<path d="M30.6 444.80H38.8M30.6 410.00H38.8M30.6 375.20H38.8M30.6 340.40H38.8M30.6 305.60H38.8M30.6 270.80H38.8" stroke="#555" stroke-width="1" fill="none"/>
<path d="M30.0 420.16H34.6M30.0 378.32H34.6M30.0 336.48H34.6M30.0 294.64H34.6M32.8 427.40H36.4M32.8 392.60H36.4M32.8 357.80H36.4M32.8 323.00H36.4M32.8 288.20H36.4M32.8 253.40H36.4M77.7 458.5V466.7M77.7 248.8V257.6M164.9 458.5V466.7M164.9 248.8V257.6M251.8 458.5V466.7M251.8 248.8V257.6M121.3 461.4V464.6M121.3 251.4V254.2M208.4 461.4V464.6M208.4 251.4V254.2" stroke="#222" stroke-width="1.1" fill="none"/>
<path d="M295.7 462.00H299.3M295.7 420.16H299.3M295.7 378.32H299.3M295.7 336.48H299.3M295.7 294.64H299.3M295.7 252.80H299.3" stroke="#ec2828" stroke-width="1.2" fill="none"/>
<text x="29.2" y="448.10" font-size="11" text-anchor="end" fill="#111" stroke="#111" stroke-width="0.15">8</text>
<text x="29.2" y="413.30" font-size="11" text-anchor="end" fill="#111" stroke="#111" stroke-width="0.15">9</text>
<text x="29.2" y="378.50" font-size="11" text-anchor="end" fill="#111" stroke="#111" stroke-width="0.15">10</text>
<text x="29.2" y="343.70" font-size="11" text-anchor="end" fill="#111" stroke="#111" stroke-width="0.15">11</text>
<text x="29.2" y="308.90" font-size="11" text-anchor="end" fill="#111" stroke="#111" stroke-width="0.15">12</text>
<text x="29.2" y="274.10" font-size="11" text-anchor="end" fill="#111" stroke="#111" stroke-width="0.15">13</text>
<text x="301.8" y="465.90" font-size="11" fill="#e83a3a">0.05</text>
<text x="301.8" y="424.06" font-size="11" fill="#e83a3a">0.10</text>
<text x="301.8" y="382.22" font-size="11" fill="#e83a3a">0.15</text>
<text x="301.8" y="340.38" font-size="11" fill="#e83a3a">0.20</text>
<text x="301.8" y="298.54" font-size="11" fill="#e83a3a">0.25</text>
<text x="301.8" y="256.70" font-size="11" fill="#e83a3a">0.30</text>
<text x="77.7" y="475.9" font-size="11.5" text-anchor="middle" fill="#111" stroke="#111" stroke-width="0.2">InAlGaAs</text>
<text x="164.9" y="475.9" font-size="11.5" text-anchor="middle" fill="#111" stroke="#111" stroke-width="0.2">SLSs</text>
<text x="251.8" y="475.9" font-size="11.5" text-anchor="middle" fill="#111" stroke="#111" stroke-width="0.2">InGaAs</text>
<text transform="translate(10.3 384.9) rotate(-90)" font-size="11.5" fill="#111" stroke="#111" stroke-width="0.15" textLength="55.6" lengthAdjust="spacingAndGlyphs">LO FWHM</text>
<text transform="translate(340.3 405.6) rotate(-90)" font-size="10.8" fill="#111" stroke="#111" stroke-width="0.1" textLength="111" lengthAdjust="spacingAndGlyphs">Normalized TO value</text>
<path d="M77.7 445.2 L164.9 375.4 L251.8 270.1" stroke="#111" stroke-width="1.2" fill="none"/>
<rect x="74.50" y="442.02" width="6.4" height="6.4" fill="#464646" stroke="#262626" stroke-width="0.8"/>
<rect x="161.70" y="372.17" width="6.4" height="6.4" fill="#464646" stroke="#262626" stroke-width="0.8"/>
<rect x="248.60" y="266.90" width="6.4" height="6.4" fill="#464646" stroke="#262626" stroke-width="0.8"/>
<path d="M77.7 437.3 L164.9 336.5 L251.8 272.5" stroke="#ec2828" stroke-width="1.3" fill="none"/>
<rect x="74.50" y="434.11" width="6.4" height="6.4" fill="#ee3c3c" stroke="#e22020" stroke-width="0.8"/>
<rect x="161.70" y="333.28" width="6.4" height="6.4" fill="#ee3c3c" stroke="#e22020" stroke-width="0.8"/>
<rect x="248.60" y="269.26" width="6.4" height="6.4" fill="#ee3c3c" stroke="#e22020" stroke-width="0.8"/>
<rect x="40.6" y="263.1" width="143.9" height="30.7" rx="1" fill="#fff" stroke="#505050" stroke-width="1.2"/>
<path d="M41.7 270.9H49.8M60.8 270.9H69.3" stroke="#111" stroke-width="1.2"/>
<rect x="52.3" y="268.0" width="6.0" height="6.0" fill="#555" stroke="#222" stroke-width="0.9"/>
<path d="M41.7 286.0H49.8M60.8 286.0H69.3" stroke="#ec2828" stroke-width="1.3"/>
<rect x="52.3" y="282.6" width="6.0" height="6.0" fill="#ee3c3c" stroke="#e01818" stroke-width="0.9"/>
<text x="72.4" y="275.5" font-size="11.5" fill="#111" stroke="#111" stroke-width="0.15" textLength="54.3" lengthAdjust="spacingAndGlyphs">LO FWHM</text>
<text x="72.4" y="290.6" font-size="11.5" fill="#111" stroke="#111" stroke-width="0.15" textLength="109.6" lengthAdjust="spacingAndGlyphs">Normalized TO value</text>
</svg>
</body></html>
